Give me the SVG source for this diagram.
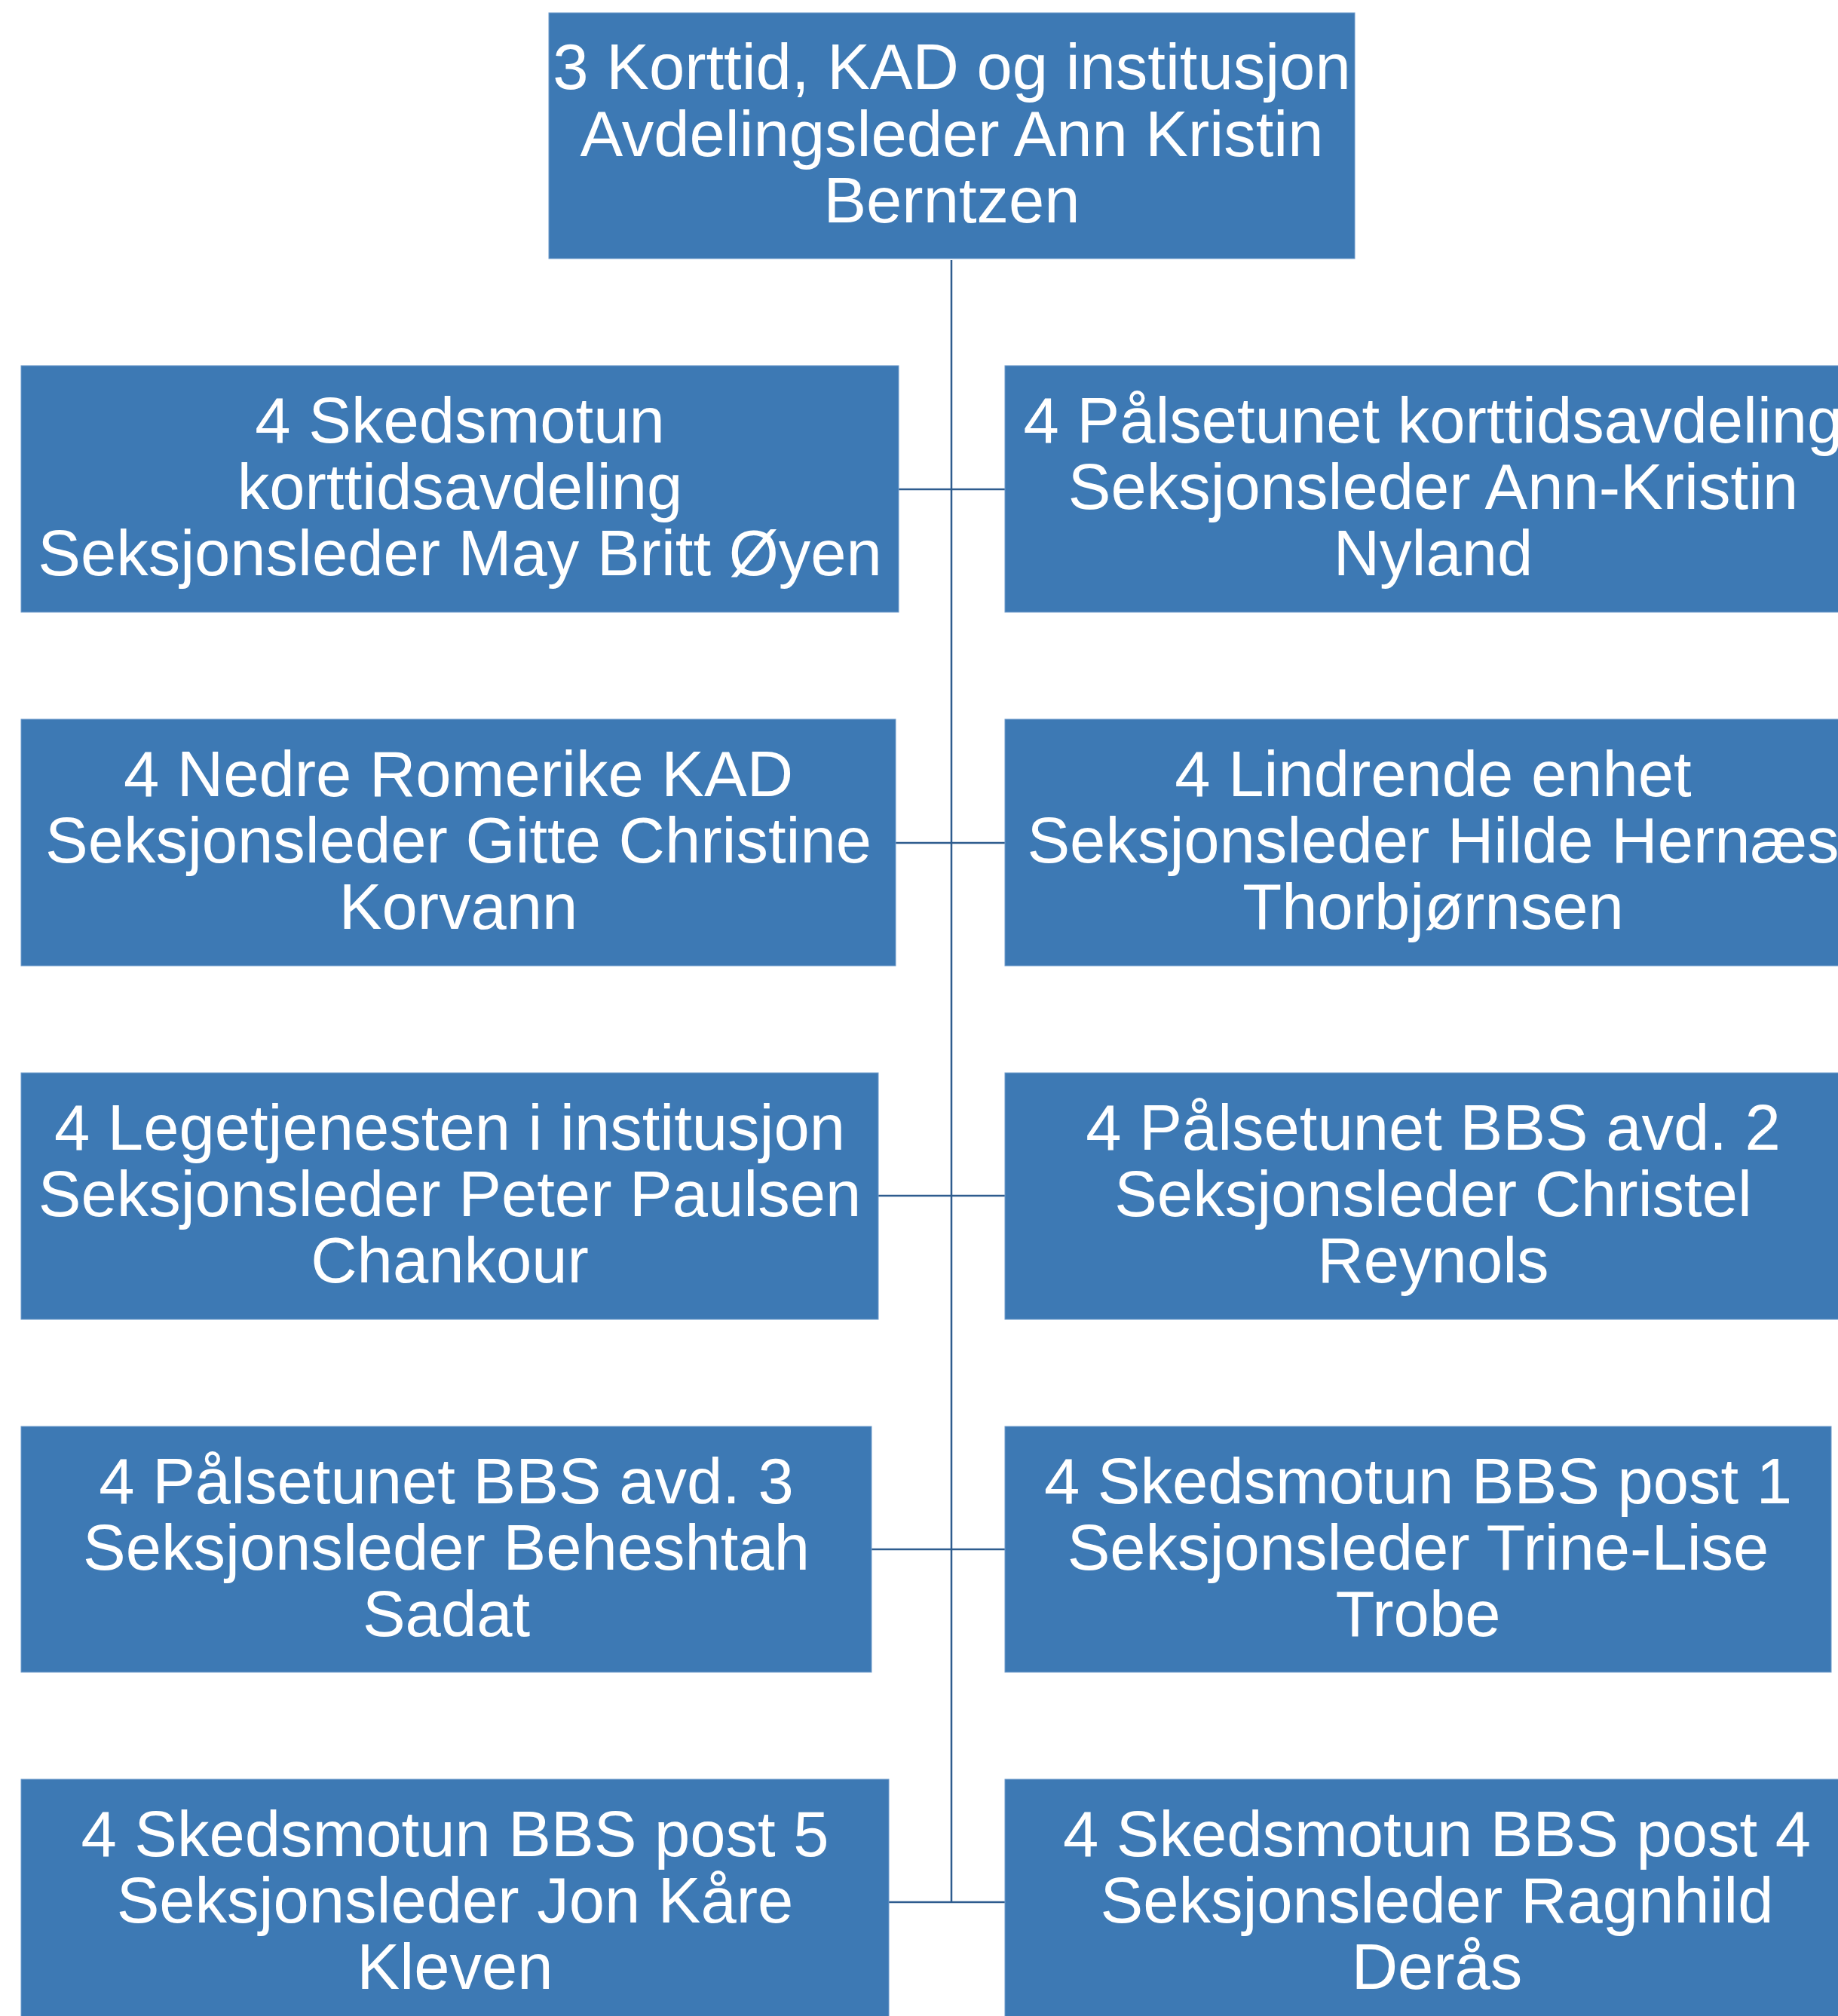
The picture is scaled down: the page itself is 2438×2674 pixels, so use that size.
<svg xmlns="http://www.w3.org/2000/svg" width="2438" height="2674" viewBox="0 0 2438 2674">
<style>
.box{fill:#3D79B4;stroke:#6F9BCB;stroke-width:1}
.t{font-family:"Liberation Sans",Arial,sans-serif;font-size:85px;fill:#FFFFFF;text-anchor:middle}
.c{stroke:#2E5C8E;stroke-width:2.5;fill:none}
</style>
<rect width="2438" height="2674" fill="#FFFFFF"/>
<g id="connectors">
<line class="c" x1="1262" y1="345" x2="1262" y2="2523"/>
<line class="c" x1="1192" y1="649" x2="1333" y2="649"/>
<line class="c" x1="1188" y1="1118" x2="1333" y2="1118"/>
<line class="c" x1="1165" y1="1586" x2="1333" y2="1586"/>
<line class="c" x1="1156" y1="2055" x2="1333" y2="2055"/>
<line class="c" x1="1179" y1="2523" x2="1333" y2="2523"/>
</g>
<g id="n0">
<rect class="box" x="728" y="17" width="1069" height="326"/>
<text class="t" x="1262.5" y="118">3 Korttid, KAD og institusjon</text>
<text class="t" x="1262.5" y="207">Avdelingsleder Ann Kristin</text>
<text class="t" x="1262.5" y="295">Berntzen</text>
</g>
<g id="L1">
<rect class="box" x="28" y="485" width="1164" height="327"/>
<text class="t" x="610" y="587">4 Skedsmotun</text>
<text class="t" x="610" y="675">korttidsavdeling</text>
<text class="t" x="610" y="763">Seksjonsleder May Britt Øyen</text>
</g>
<g id="R1">
<rect class="box" x="1333" y="485" width="1136" height="327"/>
<text class="t" x="1901" y="587">4 Pålsetunet korttidsavdeling</text>
<text class="t" x="1901" y="675">Seksjonsleder Ann-Kristin</text>
<text class="t" x="1901" y="763">Nyland</text>
</g>
<g id="L2">
<rect class="box" x="28" y="954" width="1160" height="327"/>
<text class="t" x="608" y="1056">4 Nedre Romerike KAD</text>
<text class="t" x="608" y="1144">Seksjonsleder Gitte Christine</text>
<text class="t" x="608" y="1232">Korvann</text>
</g>
<g id="R2">
<rect class="box" x="1333" y="954" width="1136" height="327"/>
<text class="t" x="1901" y="1056">4 Lindrende enhet</text>
<text class="t" x="1901" y="1144">Seksjonsleder Hilde Hernæs</text>
<text class="t" x="1901" y="1232">Thorbjørnsen</text>
</g>
<g id="L3">
<rect class="box" x="28" y="1423" width="1137" height="327"/>
<text class="t" x="596.5" y="1525">4 Legetjenesten i institusjon</text>
<text class="t" x="596.5" y="1613">Seksjonsleder Peter Paulsen</text>
<text class="t" x="596.5" y="1701">Chankour</text>
</g>
<g id="R3">
<rect class="box" x="1333" y="1423" width="1136" height="327"/>
<text class="t" x="1901" y="1525">4 Pålsetunet BBS avd. 2</text>
<text class="t" x="1901" y="1613">Seksjonsleder Christel</text>
<text class="t" x="1901" y="1701">Reynols</text>
</g>
<g id="L4">
<rect class="box" x="28" y="1892" width="1128" height="326"/>
<text class="t" x="592" y="1994">4 Pålsetunet BBS avd. 3</text>
<text class="t" x="592" y="2082">Seksjonsleder Beheshtah</text>
<text class="t" x="592" y="2170">Sadat</text>
</g>
<g id="R4">
<rect class="box" x="1333" y="1892" width="1096" height="326"/>
<text class="t" x="1881" y="1994">4 Skedsmotun BBS post 1</text>
<text class="t" x="1881" y="2082">Seksjonsleder Trine-Lise</text>
<text class="t" x="1881" y="2170">Trobe</text>
</g>
<g id="L5">
<rect class="box" x="28" y="2360" width="1151" height="327"/>
<text class="t" x="603.5" y="2462">4 Skedsmotun BBS post 5</text>
<text class="t" x="603.5" y="2550">Seksjonsleder Jon Kåre</text>
<text class="t" x="603.5" y="2638">Kleven</text>
</g>
<g id="R5">
<rect class="box" x="1333" y="2360" width="1146" height="327"/>
<text class="t" x="1906" y="2462">4 Skedsmotun BBS post 4</text>
<text class="t" x="1906" y="2550">Seksjonsleder Ragnhild</text>
<text class="t" x="1906" y="2638">Derås</text>
</g>
</svg>
